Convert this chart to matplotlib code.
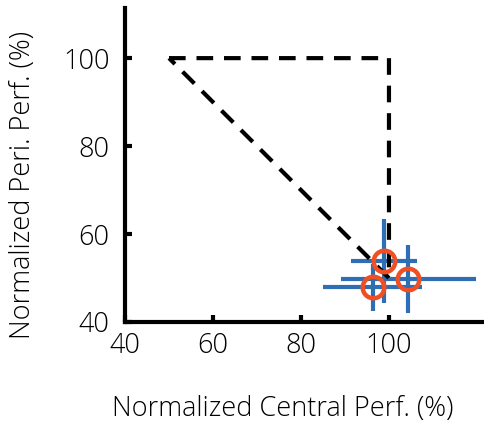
import matplotlib
matplotlib.use("Agg")
import matplotlib.pyplot as plt

plt.rcParams['font.family'] = ['Open Sans', 'DejaVu Sans']

# data
central = [98.9, 104.4, 96.3]
peri = [53.9, 49.8, 47.9]
central_err = [7.5, 15.4, 11.2]
peri_err = [9.5, 7.7, 5.3]

# reference triangle (dashed)
tri_x = [50, 100, 100, 50]
tri_y = [100, 100, 50, 100]

xticks = [40, 60, 80, 100]
yticks = [40, 60, 80, 100]

blue = '#2f6db5'
orange = '#f04e23'

fig = plt.figure(figsize=(4.84, 4.29), dpi=100)
ax = fig.add_axes([125/484, 107/429, 359/484, 314/429])

ax.errorbar(central, peri, xerr=central_err, yerr=peri_err, fmt='none',
            ecolor=blue, elinewidth=3, capsize=0, zorder=2)
ax.plot(tri_x, tri_y, color='black', lw=3, dashes=(4, 2.6), zorder=3)
ax.plot(central, peri, 'o', ms=15.5, mfc='none', mec=orange, mew=3.2, zorder=4)

ax.set_xlim(40, 121.6)
ax.set_ylim(40, 111.4)
ax.set_xticks(xticks)
ax.set_yticks(yticks)

for s in ['top', 'right']:
    ax.spines[s].set_visible(False)
for s in ['left', 'bottom']:
    ax.spines[s].set_linewidth(3)
ax.tick_params(direction='in', length=5, width=3, labelsize=19.5)
ax.tick_params(axis='x', pad=7)
ax.tick_params(axis='y', pad=11)
for lab in ax.get_xticklabels() + ax.get_yticklabels():
    lab.set_fontweight('light')

ax.set_xlabel('Normalized Central Perf. (%)', fontsize=19.5, fontweight='light')
ax.set_ylabel('Normalized Peri. Perf. (%)', fontsize=19.5, fontweight='light')
ax.xaxis.set_label_coords((283 - 125) / 359, -(395 - 322) / 314)
ax.yaxis.set_label_coords(-(125 - 37) / 359, (322 - 185) / 314)

fig.savefig('out.png', dpi=100)
